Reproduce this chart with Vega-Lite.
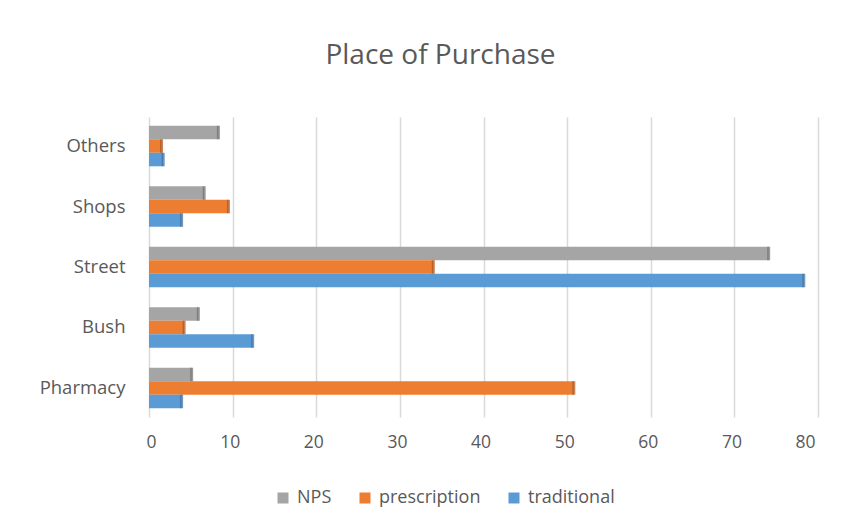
{
  "$schema": "https://vega.github.io/schema/vega-lite/v6.json",
  "autosize": "none",
  "width": 669,
  "height": 300,
  "padding": {"left": 149, "top": 117, "right": 43, "bottom": 107},
  "background": "white",
  "title": {
    "text": "Place of Purchase",
    "fontSize": 28,
    "font": "Open Sans",
    "fontWeight": "normal",
    "color": "#595959",
    "anchor": "middle",
    "dx": -43,
    "offset": 47
  },
  "data": {
    "values": [
      {"place": "Others", "type": "NPS", "value": 8.3},
      {"place": "Others", "type": "prescription", "value": 1.5},
      {"place": "Others", "type": "traditional", "value": 1.7},
      {"place": "Shops", "type": "NPS", "value": 6.6},
      {"place": "Shops", "type": "prescription", "value": 9.5},
      {"place": "Shops", "type": "traditional", "value": 3.9},
      {"place": "Street", "type": "NPS", "value": 74.1},
      {"place": "Street", "type": "prescription", "value": 34.0},
      {"place": "Street", "type": "traditional", "value": 78.3},
      {"place": "Bush", "type": "NPS", "value": 5.9},
      {"place": "Bush", "type": "prescription", "value": 4.2},
      {"place": "Bush", "type": "traditional", "value": 12.4},
      {"place": "Pharmacy", "type": "NPS", "value": 5.1},
      {"place": "Pharmacy", "type": "prescription", "value": 50.8},
      {"place": "Pharmacy", "type": "traditional", "value": 3.9}
    ]
  },
  "encoding": {
    "y": {
      "field": "place",
      "type": "nominal",
      "sort": ["Others", "Shops", "Street", "Bush", "Pharmacy"],
      "scale": {"paddingInner": 0.33, "paddingOuter": 0.145},
      "axis": {
        "title": null,
        "ticks": false,
        "domain": false,
        "labelFontSize": 18.5,
        "labelFont": "Open Sans",
        "labelColor": "#595959",
        "labelPadding": 24
      }
    },
    "yOffset": {
      "field": "type",
      "type": "nominal",
      "sort": ["NPS", "prescription", "traditional"],
      "scale": {"paddingInner": 0, "paddingOuter": 0}
    },
    "x": {
      "field": "value",
      "type": "quantitative",
      "scale": {"domain": [0, 80]},
      "axis": {
        "title": null,
        "ticks": false,
        "domain": false,
        "values": [0, 10, 20, 30, 40, 50, 60, 70, 80],
        "labelFontSize": 17.5,
        "labelFont": "Open Sans",
        "labelColor": "#595959",
        "labelPadding": 16,
        "labelOffset": -3,
        "gridColor": "#d9d9d9",
        "gridWidth": 1.5
      }
    }
  },
  "layer": [
    {
      "mark": {"type": "bar"},
      "encoding": {
        "color": {
          "field": "type",
          "type": "nominal",
          "sort": ["NPS", "prescription", "traditional"],
          "scale": {"domain": ["NPS", "prescription", "traditional"], "range": ["#a5a5a5", "#ed7d31", "#5b9bd5"]},
          "legend": {
            "title": null,
            "orient": "none",
            "legendX": 125,
            "legendY": 372,
            "padding": 0,
            "direction": "horizontal",
            "symbolType": "square",
            "symbolSize": 121,
            "symbolStrokeWidth": 0,
            "symbolOpacity": 1,
            "labelFontSize": 18,
            "labelFont": "Open Sans",
            "labelColor": "#595959",
            "labelOffset": 5,
            "columnPadding": 24
          }
        }
      }
    },
    {
      "mark": {"type": "tick", "thickness": 3, "orient": "vertical"},
      "encoding": {
        "color": {
          "field": "type",
          "type": "nominal",
          "scale": {"domain": ["NPS", "prescription", "traditional"], "range": ["#6f6f6f", "#a9541d", "#3c6d9c"]},
          "legend": null
        }
      }
    }
  ],
  "resolve": {"scale": {"color": "independent"}},
  "config": {"view": {"stroke": null}}
}
